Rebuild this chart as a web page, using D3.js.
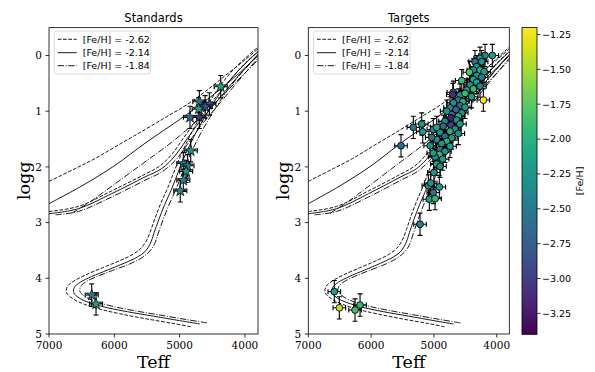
<!DOCTYPE html>
<html><head><meta charset="utf-8">
<script src="https://cdn.jsdelivr.net/npm/d3@7"></script>
<style>body{margin:0;background:#fff}</style>
</head><body><svg id="c" width="595" height="372" xmlns="http://www.w3.org/2000/svg"></svg>
<script>
// ---------------- DATA ----------------
const isoLabels = ["[Fe/H] = -2.62", "[Fe/H] = -2.14", "[Fe/H] = -1.84"];
// main sequence -> subgiant -> red giant branch  [Teff, logg]
const iso262Main = [[4830,4.87],[5100,4.81],[5500,4.73],[5900,4.64],[6200,4.56],[6450,4.47],[6630,4.37],[6730,4.26],[6720,4.15],[6620,4.05],[6440,3.94],[6180,3.81],[5930,3.69],[5730,3.58],[5600,3.47],[5510,3.33],[5440,3.13],[5370,2.90],[5280,2.63],[5180,2.37],[5090,2.10],[5000,1.84],[4900,1.58],[4770,1.28],[4600,0.94],[4400,0.58],[4150,0.22],[3800,-0.15]];
const iso214Main = [[4690,4.82],[5000,4.76],[5400,4.68],[5800,4.60],[6100,4.53],[6350,4.45],[6530,4.36],[6620,4.26],[6610,4.16],[6520,4.07],[6350,3.97],[6100,3.85],[5850,3.73],[5650,3.62],[5530,3.52],[5450,3.38],[5390,3.18],[5320,2.95],[5230,2.68],[5130,2.42],[5040,2.15],[4950,1.88],[4850,1.62],[4720,1.32],[4550,0.98],[4350,0.62],[4100,0.27],[3800,-0.07]];
const iso184Main = [[4580,4.80],[4900,4.74],[5300,4.66],[5700,4.58],[6000,4.51],[6250,4.43],[6430,4.34],[6525,4.24],[6515,4.15],[6430,4.06],[6270,3.97],[6030,3.86],[5780,3.75],[5590,3.64],[5470,3.53],[5390,3.40],[5330,3.20],[5260,2.97],[5170,2.70],[5070,2.44],[4980,2.18],[4890,1.92],[4790,1.66],[4660,1.36],[4490,1.02],[4290,0.66],[4050,0.31],[3800,0.00]];
// horizontal branch -> asymptotic giant branch
const iso262HB = [[7000,2.80],[6550,2.71],[6040,2.43],[5530,2.13],[5300,1.98],[5110,1.76],[4940,1.48],[4740,1.16],[4490,0.81],[4240,0.46],[3990,0.13],[3800,-0.07]];
const iso214HB = [[7000,2.84],[6550,2.75],[6040,2.48],[5530,2.18],[5274,2.03],[5070,1.80],[4900,1.52],[4700,1.20],[4450,0.85],[4200,0.50],[3950,0.17],[3800,-0.02]];
const iso184HB = [[6900,2.86],[6550,2.80],[6040,2.54],[5530,2.24],[5260,2.08],[5040,1.85],[4860,1.56],[4660,1.24],[4410,0.89],[4160,0.54],[3920,0.21],[3800,0.05]];
// upper (hot) post-HB tracks
const iso262Up = [[7000,2.26],[6600,2.03],[6296,1.85],[5900,1.58],[5530,1.33],[5200,1.10],[4892,0.885],[4600,0.64],[4300,0.36],[4000,0.08],[3800,-0.12]];
const iso214Up = [[7000,2.66],[6495,2.34],[6000,1.98],[5500,1.55],[5000,1.15],[4500,0.72],[4100,0.33],[3800,0.00]];
const iso184Up = [[6650,2.83],[6400,2.65],[6219,2.50],[5600,1.97],[5070,1.51],[4600,1.02],[4200,0.55],[3800,0.08]];

// Standards
const stdTeff = [4371,4698,4545,4610,4708,4841,4698,4830,4943,4880,4900,4943,4990,6346,6280];
const stdLogg = [0.56,0.83,0.87,0.92,0.96,1.11,1.11,1.71,1.94,1.98,2.08,2.24,2.43,4.30,4.46];
const stdFeH  = [-2.10,-2.55,-2.90,-2.75,-2.15,-2.60,-3.10,-2.30,-2.55,-2.45,-2.25,-2.40,-2.35,-2.55,-2.15];

// Targets
const tgtTeff = [4070,4186,4266,4346,4240,4320,4373,4266,4200,4436,4320,4240,4373,4557,4320,4425,4266,4373,4478,4691,4700,4585,4505,4400,4612,4540,4213,4691,4585,4744,4648,4505,4557,4717,4797,4612,4728,4638,4824,4730,4585,4850,4665,4744,4903,4612,4824,4717,4955,4797,4877,4744,4903,4824,4913,4982,4860,4955,4903,5010,5328,5194,5178,4955,5524,5035,5060,5010,5089,5010,4914,5073,4982,5051,5221,5000,6586,6506,6256,6176];
const tgtLogg = [0.00,0.00,0.05,0.11,0.11,0.20,0.26,0.26,0.29,0.30,0.36,0.39,0.43,0.45,0.48,0.53,0.55,0.60,0.62,0.66,0.70,0.71,0.68,0.74,0.80,0.83,0.80,0.85,0.90,0.94,0.97,0.93,1.03,1.06,1.00,1.09,1.12,1.16,1.18,1.25,1.23,1.27,1.32,1.36,1.38,1.40,1.45,1.48,1.51,1.54,1.58,1.63,1.69,1.72,1.78,1.82,1.86,1.95,1.99,1.33,1.29,1.23,1.37,1.29,1.62,1.47,1.62,1.75,2.34,2.46,2.36,2.58,2.57,2.29,3.03,2.10,4.24,4.53,4.57,4.48];
const tgtFeH  = [-2.20,-2.40,-2.20,-2.60,-2.30,-2.20,-2.30,-2.00,-2.20,-1.80,-2.30,-2.50,-2.10,-1.90,-2.20,-2.30,-2.40,-1.90,-2.20,-2.70,-3.10,-2.30,-1.90,-2.20,-2.50,-2.00,-1.22,-2.30,-2.60,-2.40,-2.70,-2.20,-2.30,-2.60,-2.30,-2.00,-3.20,-2.30,-2.40,-3.00,-2.20,-2.70,-2.30,-2.00,-2.30,-2.30,-2.60,-2.20,-2.30,-2.00,-2.30,-2.20,-2.60,-2.30,-1.90,-2.30,-2.20,-2.00,-2.30,-2.40,-2.50,-2.30,-2.20,-2.10,-2.60,-2.60,-2.30,-2.20,-2.30,-2.60,-2.20,-2.20,-1.95,-2.30,-2.40,-2.30,-2.20,-1.40,-1.85,-1.95];
const teffErr = 100, loggErr = 0.2;

const xTicks = [7000,6000,5000,4000];
const yTicks = [0,1,2,3,4,5];
const cbTicks = [-1.25,-1.50,-1.75,-2.00,-2.25,-2.50,-2.75,-3.00,-3.25];
const fehRange = [-3.4,-1.2];

// ---------------- DRAW ----------------
const svg = d3.select("#c");
const yTop = 27.65, yBot = 334;
const y = d3.scaleLinear().domain([-0.5,5]).range([yTop,yBot]);
const color = d3.scaleSequential(d3.interpolateViridis).domain(fehRange);
const dashes = ["3.7,1.6", null, "6.4,1.6,1,1.6"];
const isoSets = [[iso262Main,iso262HB,iso262Up],[iso214Main,iso214HB,iso214Up],[iso184Main,iso184HB,iso184Up]];
const serif = "'DejaVu Serif', serif", sans = "'DejaVu Sans', sans-serif";

const panels = [
  {x0:49, x1:258, title:"Standards", T:stdTeff, G:stdLogg, F:stdFeH, star:true},
  {x0:308.3, x1:509.3, title:"Targets", T:tgtTeff, G:tgtLogg, F:tgtFeH, star:false}
];

panels.forEach((p,pi)=>{
  const x = d3.scaleLinear().domain([7000,3800]).range([p.x0,p.x1]);
  const g = svg.append("g");
  const cid = "clip"+pi;
  svg.append("defs").append("clipPath").attr("id",cid).append("rect")
    .attr("x",p.x0).attr("y",yTop).attr("width",p.x1-p.x0).attr("height",yBot-yTop);
  const plot = g.append("g").attr("clip-path",`url(#${cid})`);
  const line = d3.line().x(d=>x(d[0])).y(d=>y(d[1])).curve(d3.curveCatmullRom.alpha(0.5));
  isoSets.forEach((set,si)=>{
    set.forEach(arr=>{
      plot.append("path").attr("d",line(arr)).attr("fill","none")
        .attr("stroke","#000").attr("stroke-width",0.9)
        .attr("stroke-dasharray",dashes[si]);
    });
  });
  // error bars
  const idx = d3.range(p.T.length);
  const eb = plot.append("g").attr("stroke","#000").attr("stroke-width",1.1);
  idx.forEach(i=>{
    const cx=x(p.T[i]), cy=y(p.G[i]);
    const xl=x(p.T[i]+teffErr), xr=x(p.T[i]-teffErr);
    const yt=y(p.G[i]-loggErr), yb=y(p.G[i]+loggErr);
    eb.append("line").attr("x1",xl).attr("x2",xr).attr("y1",cy).attr("y2",cy);
    eb.append("line").attr("x1",cx).attr("x2",cx).attr("y1",yt).attr("y2",yb);
    eb.append("line").attr("x1",xl).attr("x2",xl).attr("y1",cy-2.5).attr("y2",cy+2.5);
    eb.append("line").attr("x1",xr).attr("x2",xr).attr("y1",cy-2.5).attr("y2",cy+2.5);
    eb.append("line").attr("x1",cx-2.5).attr("x2",cx+2.5).attr("y1",yt).attr("y2",yt);
    eb.append("line").attr("x1",cx-2.5).attr("x2",cx+2.5).attr("y1",yb).attr("y2",yb);
  });
  // markers
  const mk = plot.append("g");
  idx.forEach(i=>{
    const cx=x(p.T[i]), cy=y(p.G[i]);
    if(p.star){
      mk.append("path").attr("d",d3.symbol(d3.symbolStar,40)())
        .attr("transform",`translate(${cx},${cy})`)
        .attr("fill",color(p.F[i])).attr("stroke","#000").attr("stroke-width",0.7);
    } else {
      mk.append("circle").attr("cx",cx).attr("cy",cy).attr("r",3.4)
        .attr("fill",color(p.F[i])).attr("stroke","#000").attr("stroke-width",0.9);
    }
  });
  // frame
  g.append("rect").attr("x",p.x0).attr("y",yTop).attr("width",p.x1-p.x0).attr("height",yBot-yTop)
    .attr("fill","none").attr("stroke","#000").attr("stroke-width",0.8);
  // ticks
  xTicks.forEach(t=>{
    g.append("line").attr("x1",x(t)).attr("x2",x(t)).attr("y1",yBot).attr("y2",yBot+3.5).attr("stroke","#000").attr("stroke-width",0.8);
    g.append("text").attr("x",x(t)).attr("y",349).attr("text-anchor","middle")
      .attr("font-family",serif).attr("font-size",10.5).text(t);
  });
  yTicks.forEach(t=>{
    g.append("line").attr("x1",p.x0-3.5).attr("x2",p.x0).attr("y1",y(t)).attr("y2",y(t)).attr("stroke","#000").attr("stroke-width",0.8);
    g.append("text").attr("x",p.x0-7).attr("y",y(t)+3.8).attr("text-anchor","end")
      .attr("font-family",serif).attr("font-size",10.5).text(t);
  });
  // labels
  const cxm=(p.x0+p.x1)/2;
  g.append("text").attr("x",cxm).attr("y",22).attr("text-anchor","middle")
    .attr("font-family",sans).attr("font-size",11.5).text(p.title);
  g.append("text").attr("x",cxm).attr("y",367.5).attr("text-anchor","middle")
    .attr("font-family",serif).attr("font-size",17.5).text("Teff");
  g.append("text").attr("transform",`translate(${p.x0-19},${(yTop+yBot)/2}) rotate(-90)`)
    .attr("text-anchor","middle").attr("font-family",serif).attr("font-size",17.5).text("logg");
  // legend
  const lx=p.x0+5.3, ly=31;
  g.append("rect").attr("x",lx).attr("y",ly).attr("width",96.4).attr("height",43).attr("rx",2.5)
    .attr("fill","#fff").attr("fill-opacity",0.85).attr("stroke","#d0d0d0").attr("stroke-width",0.8);
  isoLabels.forEach((lab,k)=>{
    const ry=[39.3,52.7,65.7][k];
    g.append("line").attr("x1",lx+3.4).attr("x2",lx+22.4).attr("y1",ry).attr("y2",ry)
      .attr("stroke","#000").attr("stroke-width",0.9).attr("stroke-dasharray",dashes[k]);
    g.append("text").attr("x",lx+28.4).attr("y",ry+3.4).attr("font-family",sans).attr("font-size",9.5).text(lab);
  });
});

// colorbar
const cbx=522, cbw=15, cbTop=27.5, cbBot=334.3;
const cy = d3.scaleLinear().domain(fehRange).range([cbBot,cbTop]);
const grad = svg.append("defs").append("linearGradient").attr("id","vir")
  .attr("x1",0).attr("x2",0).attr("y1",1).attr("y2",0);
d3.range(0,1.0001,0.05).forEach(t=>{
  grad.append("stop").attr("offset",t).attr("stop-color",d3.interpolateViridis(t));
});
svg.append("rect").attr("x",cbx).attr("y",cbTop).attr("width",cbw).attr("height",cbBot-cbTop)
  .attr("fill","url(#vir)").attr("stroke","#000").attr("stroke-width",0.8);
cbTicks.forEach(t=>{
  svg.append("line").attr("x1",cbx+cbw).attr("x2",cbx+cbw+3.5).attr("y1",cy(t)).attr("y2",cy(t)).attr("stroke","#000").attr("stroke-width",0.8);
  svg.append("text").attr("x",cbx+cbw+5).attr("y",cy(t)+3.4).attr("font-family",sans).attr("font-size",9.5)
    .text(d3.format(".2f")(t).replace("-","\u2212"));
});
svg.append("text").attr("transform",`translate(583,${(cbTop+cbBot)/2}) rotate(-90)`)
  .attr("text-anchor","middle").attr("font-family",sans).attr("font-size",9.5).text("[Fe/H]");
</script></body></html>
